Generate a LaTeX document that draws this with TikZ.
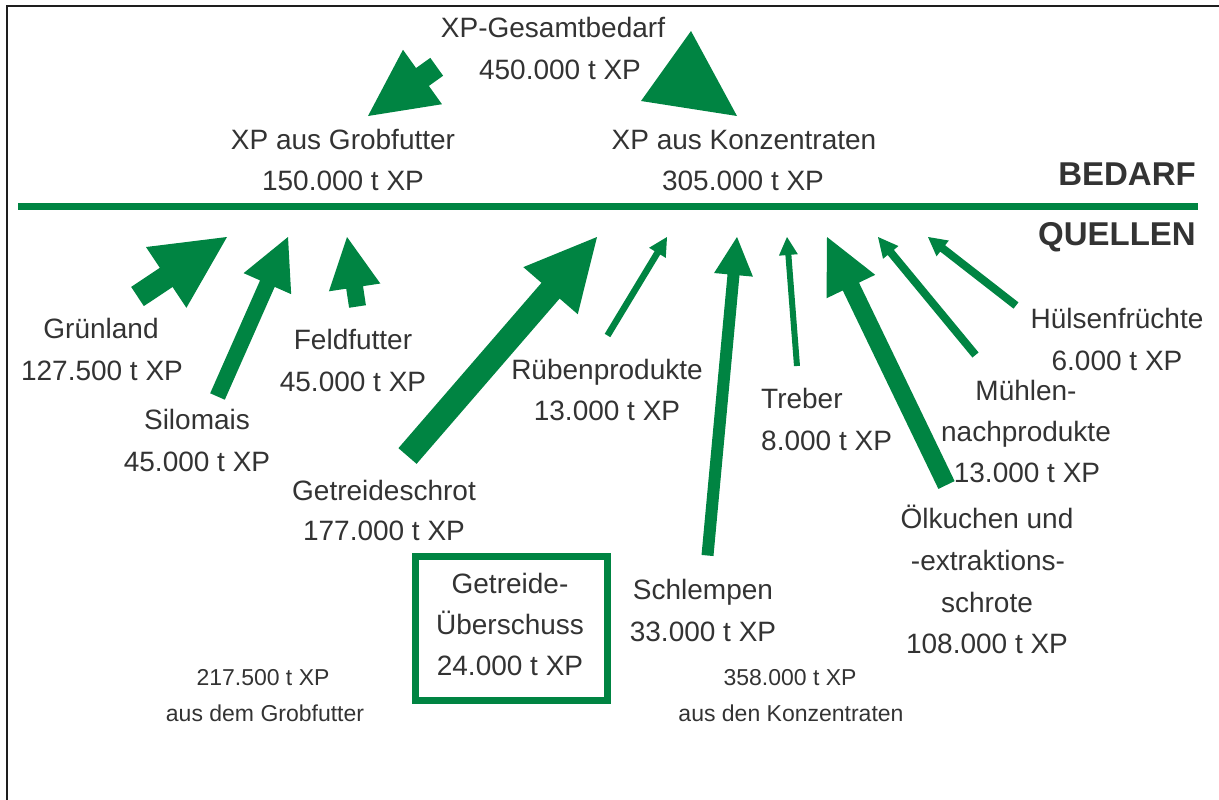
\documentclass[tikz,border=0pt]{standalone}
\usepackage{fontspec}
\setmainfont{Liberation Sans}
\usetikzlibrary{calc}
\definecolor{agreen}{RGB}{0,132,66}
\definecolor{tgray}{RGB}{51,51,51}
\definecolor{frame}{RGB}{30,30,30}
% block arrow: #1 tail, #2 tip, #3 half shaft width, #4 half head width, #5 head length
\newcommand\blockarrow[5]{%
  \path ($(#2)!#5!(#1)$) coordinate (ba);
  \fill[agreen] ($(#1)!#3!90:(#2)$) -- ($(ba)!#3!90:(#2)$) -- ($(ba)!#4!90:(#2)$) -- (#2)
    -- ($(ba)!#4!-90:(#2)$) -- ($(ba)!#3!-90:(#2)$) -- ($(#1)!#3!-90:(#2)$) -- cycle;}
\newcommand\txtline[5][txt]{\node[#1,anchor=base] (#2) at (#3,#4) {#5};}
\begin{document}
\begin{tikzpicture}[x=1pt,y=-1pt,
  txt/.style={text=tgray,font=\fontsize{28}{40}\selectfont,inner sep=0pt},
  small/.style={text=tgray,font=\fontsize{23}{30}\selectfont,inner sep=0pt},
  head/.style={text=tgray,font=\fontsize{33}{40}\selectfont\bfseries,inner sep=0pt},
  boxnode/.style={draw=agreen,line width=7pt,minimum width=192pt,minimum height=144pt,inner sep=0pt}]
\useasboundingbox (0,0) rectangle (1219,800);
% frame
\draw[frame,line width=2.5pt] (7,800) -- (7,6) -- (1219,6);
% dividing line
\coordinate (lineL) at (18,206.5);
\coordinate (lineR) at (1198,206.5);
\draw[agreen,line width=6.5pt] (lineL) -- (lineR);

% ---- top texts
\txtline{gesamt1}{553}{38}{XP-Gesamtbedarf}
\txtline{gesamt2}{560}{80}{450.000 t XP}
\txtline{grob1}{343}{149}{XP aus Grobfutter}
\txtline{grob2}{343}{190}{150.000 t XP}
\txtline{konz1}{744}{149}{XP aus Konzentraten}
\txtline{konz2}{743}{190}{305.000 t XP}
\node[head,anchor=base east] (bedarf) at (1196,185) {BEDARF};
\node[head,anchor=base east] (quellen) at (1196,245) {QUELLEN};

% ---- top arrows
\coordinate (gTail) at (436.7,66.8);
\coordinate (gTip) at (368,116);
\blockarrow{gTail}{gTip}{11pt}{33.5pt}{67pt}
\coordinate (kTip) at (691,31);
\coordinate (kL) at (641,101);
\coordinate (kR) at (737,116);
\fill[agreen] (kTip) -- (kL) -- (kR) -- cycle;

% ---- source labels
\txtline{gruen1}{101}{338}{Grünland}
\txtline{gruen2}{102}{380}{127.500 t XP}
\txtline{silo1}{197}{429}{Silomais}
\txtline{silo2}{197}{471}{45.000 t XP}
\txtline{feld1}{353}{349}{Feldfutter}
\txtline{feld2}{353}{391}{45.000 t XP}
\txtline{schrot1}{384}{500}{Getreideschrot}
\txtline{schrot2}{384}{540}{177.000 t XP}
\txtline{rueben1}{607}{379}{Rübenprodukte}
\txtline{rueben2}{607}{420}{13.000 t XP}
\node[txt,anchor=base west] (treber1) at (761,408) {Treber};
\node[txt,anchor=base west] (treber2) at (761,450) {8.000 t XP};
\txtline{huels1}{1117}{328}{Hülsenfrüchte}
\txtline{huels2}{1117}{370}{6.000 t XP}
\txtline{muehl1}{1026}{400}{Mühlen-}
\txtline{muehl2}{1026}{441}{nachprodukte}
\txtline{muehl3}{1027}{482}{13.000 t XP}
\txtline{oel1}{987}{528}{Ölkuchen und}
\txtline{oel2}{988}{570}{-extraktions-}
\txtline{oel3}{987}{612}{schrote}
\txtline{oel4}{987}{653}{108.000 t XP}
\txtline{schlemp1}{703}{599}{Schlempen}
\txtline{schlemp2}{703}{641}{33.000 t XP}
\node[boxnode] (ueber) at (511.5,628.5) {};
\txtline{ueber1}{510}{593}{Getreide-}
\txtline{ueber2}{510}{634}{Überschuss}
\txtline{ueber3}{510}{675}{24.000 t XP}
\txtline[small]{sumG1}{263}{685}{217.500 t XP}
\txtline[small]{sumG2}{265}{721}{aus dem Grobfutter}
\txtline[small]{sumK1}{790}{685}{358.000 t XP}
\txtline[small]{sumK2}{791}{721}{aus den Konzentraten}

% ---- source arrows (tail at label, tip at the line)
\coordinate (aGruenT) at (137.5,296.5);   \coordinate (aGruenH) at (227,237);
\coordinate (aSiloT) at (217.5,396.5);    \coordinate (aSiloH) at (288,237);
\coordinate (aFeldT) at (357.5,306.5);    \coordinate (aFeldH) at (347,237);
\coordinate (aSchrotT) at (407.5,456);    \coordinate (aSchrotH) at (597,237);
\coordinate (aRuebT) at (607.5,335.5);    \coordinate (aRuebH) at (667,237);
\coordinate (aSchlT) at (707.5,555.5);    \coordinate (aSchlH) at (737,237);
\coordinate (aTrebT) at (797,366);        \coordinate (aTrebH) at (787,237);
\coordinate (aOelT) at (946.5,485);       \coordinate (aOelH) at (827,237);
\coordinate (aMuehlT) at (975.5,355);     \coordinate (aMuehlH) at (878,237);
\coordinate (aHuelsT) at (1016,305.5);    \coordinate (aHuelsH) at (928,237);
\blockarrow{aGruenT}{aGruenH}{11.5pt}{36.5pt}{73pt}
\blockarrow{aSiloT}{aSiloH}{8pt}{26pt}{51pt}
\blockarrow{aFeldT}{aFeldH}{8.5pt}{26pt}{51pt}
\blockarrow{aSchrotT}{aSchrotH}{12pt}{36pt}{71pt}
\blockarrow{aRuebT}{aRuebH}{3.25pt}{9.75pt}{18.5pt}
\blockarrow{aSchlT}{aSchlH}{6pt}{19.5pt}{38pt}
\blockarrow{aTrebT}{aTrebH}{3pt}{9.5pt}{18pt}
\blockarrow{aOelT}{aOelH}{9pt}{27pt}{55pt}
\blockarrow{aMuehlT}{aMuehlH}{4pt}{10pt}{20pt}
\blockarrow{aHuelsT}{aHuelsH}{4pt}{10pt}{18.6pt}
\end{tikzpicture}
\end{document}
